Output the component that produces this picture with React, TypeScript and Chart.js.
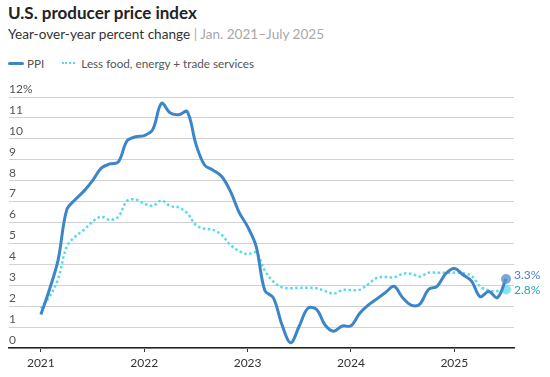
import React, { useEffect, useRef } from "react";
import { Chart, registerables } from "chart.js";

Chart.register(...registerables);

// ---- data ----
const months = [
  "2021-01","2021-02","2021-03","2021-04","2021-05","2021-06","2021-07","2021-08","2021-09","2021-10","2021-11","2021-12",
  "2022-01","2022-02","2022-03","2022-04","2022-05","2022-06","2022-07","2022-08","2022-09","2022-10","2022-11","2022-12",
  "2023-01","2023-02","2023-03","2023-04","2023-05","2023-06","2023-07","2023-08","2023-09","2023-10","2023-11","2023-12",
  "2024-01","2024-02","2024-03","2024-04","2024-05","2024-06","2024-07","2024-08","2024-09","2024-10","2024-11","2024-12",
  "2025-01","2025-02","2025-03","2025-04","2025-05","2025-06","2025-07",
];

const ppi = [
  1.6, 2.8, 4.2, 6.6, 7.1, 7.5, 8.0, 8.6, 8.8, 8.9, 9.9, 10.1,
  10.15, 10.45, 11.7, 11.25, 11.15, 11.3, 9.75, 8.75, 8.5, 8.2, 7.5, 6.5,
  5.8, 4.85, 2.75, 2.4, 1.1, 0.25, 1.05, 1.9, 1.85, 1.1, 0.8, 1.05,
  1.06, 1.65, 2.05, 2.35, 2.65, 2.95, 2.4, 2.05, 2.1, 2.8, 2.95, 3.55,
  3.8, 3.5, 3.2, 2.45, 2.7, 2.4, 3.3,
];

const core = [
  1.9, 2.45, 3.3, 4.85, 5.33, 5.65, 6.04, 6.28, 6.12, 6.28, 7.03, 7.1,
  6.9, 6.8, 7.05, 6.79, 6.72, 6.44, 5.88, 5.7, 5.65, 5.4, 4.93, 4.64,
  4.49, 4.56, 3.7, 3.17, 2.9, 2.86, 2.88, 2.88, 2.86, 2.72, 2.6, 2.77,
  2.77, 2.78, 3.05, 3.35, 3.4, 3.38, 3.55, 3.55, 3.42, 3.6, 3.6, 3.6,
  3.6, 3.58, 3.45, 2.95, 2.75, 2.72, 2.8,
];

const yearTickValues = ["2021-01", "2022-01", "2023-01", "2024-01", "2025-01"];
const yearTickLabels = ["2021", "2022", "2023", "2024", "2025"];
const endLabels = ["3.3%", "2.8%"];
const seriesNames = ["PPI", "Less food, energy + trade services"];

const monthIndex = (m: string) => {
  const [y, mo] = m.split("-").map(Number);
  return (y - 2021) * 12 + (mo - 1);
};

const PPI_COLOR = "#3d85c9";
const CORE_COLOR = "#55dbe9";
const FONT = "Lato, 'Open Sans', sans-serif";

export default function App() {
  const canvasRef = useRef<HTMLCanvasElement | null>(null);

  useEffect(() => {
    document.body.style.margin = "0";
    const canvas = canvasRef.current;
    if (!canvas) return;

    const endLabelPlugin = {
      id: "endLabels",
      afterDatasetsDraw(chart: any) {
        const ctx = chart.ctx;
        ctx.save();
        ctx.font = `12px ${FONT}`;
        ctx.textAlign = "left";
        ctx.textBaseline = "middle";
        const colors = ["#4f7fc4", "#2ba3ad"];
        const offsets = [-4, 1];
        chart.data.datasets.forEach((_: any, i: number) => {
          const meta = chart.getDatasetMeta(i);
          const pt = meta.data[meta.data.length - 1];
          if (!pt) return;
          ctx.fillStyle = colors[i];
          ctx.fillText(endLabels[i], pt.x + 8, pt.y + offsets[i]);
        });
        ctx.restore();
      },
    };

    const lastIdx = months.length - 1;
    const radii = (r: number) => months.map((_, i) => (i === lastIdx ? r : 0));

    const chart = new Chart(canvas, {
      type: "line",
      data: {
        datasets: [
          {
            label: seriesNames[0],
            data: months.map((m, i) => ({ x: monthIndex(m), y: ppi[i] })),
            borderColor: PPI_COLOR,
            borderWidth: 3,
            tension: 0.35,
            pointRadius: radii(5),
            pointBackgroundColor: "rgba(90,145,210,0.8)",
            pointBorderWidth: 0,
            order: 0,
          },
          {
            label: seriesNames[1],
            data: months.map((m, i) => ({ x: monthIndex(m), y: core[i] })),
            borderColor: CORE_COLOR,
            borderWidth: 2.5,
            borderDash: [2.5, 2.5],
            tension: 0.35,
            pointRadius: radii(5),
            pointBackgroundColor: "rgba(110,225,238,0.85)",
            pointBorderWidth: 0,
            order: 1,
          },
        ],
      },
      options: {
        animation: false,
        responsive: false,
        layout: { padding: { left: 9, right: 36, top: 97, bottom: 0 } },
        plugins: { legend: { display: false }, tooltip: { enabled: false } },
        scales: {
          x: {
            type: "linear",
            min: -3.7,
            max: 54.93,
            afterBuildTicks: (s: any) => {
              s.ticks = yearTickValues.map((v) => ({ value: monthIndex(v) }));
            },
            afterFit: (s: any) => {
              s.height = 29;
            },
            grid: {
              drawOnChartArea: false,
              drawTicks: true,
              tickLength: 4,
              color: "#333",
            },
            border: { display: true, color: "#222", width: 1.5 },
            ticks: {
              autoSkip: false,
              maxRotation: 0,
              padding: 4,
              color: "#333",
              font: { family: FONT, size: 12 },
              callback: (v: any) => {
                const idx = yearTickValues.map(monthIndex).indexOf(Number(v));
                return idx >= 0 ? yearTickLabels[idx] : "";
              },
            },
          },
          y: {
            min: 0,
            max: 12,
            afterFit: (s: any) => {
              s.width = 0;
            },
            grid: { color: "#d2d2d2", lineWidth: 1, drawTicks: false },
            border: { display: false },
            ticks: {
              stepSize: 1,
              mirror: true,
              padding: 0,
              labelOffset: -8,
              color: "#555",
              font: { family: FONT, size: 12 },
              callback: (v: any) => (Number(v) === 12 ? "12%" : String(v)),
            },
          },
        },
      },
      plugins: [endLabelPlugin],
    } as any);

    return () => chart.destroy();
  }, []);

  return (
    <div style={{ position: "relative", width: 550, height: 377, fontFamily: FONT, overflow: "hidden" }}>
      <div
        style={{
          position: "absolute",
          left: 8,
          top: 3,
          fontSize: 17,
          lineHeight: "20px",
          fontWeight: 700,
          color: "#222",
          whiteSpace: "nowrap",
        }}
      >
        U.S. producer price index
      </div>
      <div
        style={{
          position: "absolute",
          left: 8,
          top: 25,
          fontSize: 13.6,
          lineHeight: "18px",
          color: "#333",
          whiteSpace: "nowrap",
        }}
      >
        Year-over-year percent change <span style={{ color: "#a8a8a8" }}>| Jan. 2021–July 2025</span>
      </div>
      <div
        style={{
          position: "absolute",
          left: 8,
          top: 55,
          fontSize: 11.7,
          lineHeight: "16px",
          color: "#555",
          whiteSpace: "nowrap",
          display: "flex",
          alignItems: "center",
        }}
      >
        <span style={{ display: "inline-block", width: 16, height: 3, background: PPI_COLOR, borderRadius: 1.5 }} />
        <span style={{ marginLeft: 3 }}>{seriesNames[0]}</span>
        <span
          style={{
            display: "inline-block",
            width: 13,
            height: 0,
            borderTop: `2.5px dotted ${CORE_COLOR}`,
            marginLeft: 18,
          }}
        />
        <span style={{ marginLeft: 6 }}>{seriesNames[1]}</span>
      </div>
      <canvas
        ref={canvasRef}
        width={550}
        height={377}
        style={{ position: "absolute", left: 0, top: 0, display: "block" }}
      />
    </div>
  );
}
